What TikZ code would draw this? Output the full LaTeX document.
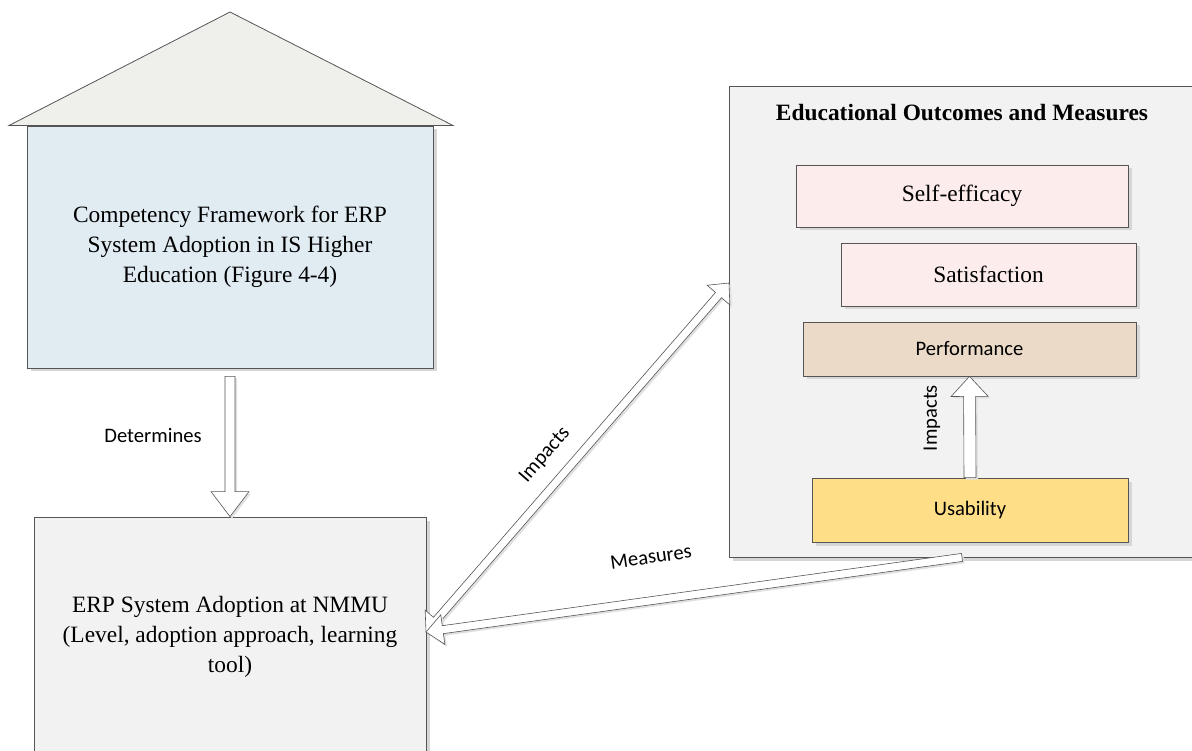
\documentclass[tikz,border=0pt]{standalone}
\usepackage{fontspec}
\setmainfont{Liberation Serif}
\newfontfamily\calibri{Carlito}
\usetikzlibrary{calc,shadows}

\definecolor{edgegray}{HTML}{555555}
\definecolor{roofgray}{HTML}{EFEFEC}
\definecolor{paleblue}{HTML}{E0EBF2}
\definecolor{panelgray}{HTML}{F2F2F2}
\definecolor{palepink}{HTML}{FDECEC}
\definecolor{tan}{HTML}{EADAC7}
\definecolor{butter}{HTML}{FEDF88}

% single-headed block arrow: #1 tail, #2 tip, #3 shaft half width,
% #4 head half width, #5 head length
\newcommand\blockarrow[5]{%
  \coordinate (hb) at ($(#2)!#5!(#1)$);
  \draw[arrowbody]
    ($(#1)!#3!90:(#2)$) -- ($(hb)!#3!-90:(#1)$) -- ($(hb)!#4!-90:(#1)$)
    -- (#2)
    -- ($(hb)!#4!90:(#1)$) -- ($(hb)!#3!90:(#1)$) -- ($(#1)!#3!-90:(#2)$)
    -- cycle;
}
% double-headed block arrow, same arguments
\newcommand\blockarrowboth[5]{%
  \coordinate (ha) at ($(#1)!#5!(#2)$);
  \coordinate (hb) at ($(#2)!#5!(#1)$);
  \draw[arrowbody]
    (#1) -- ($(ha)!#4!90:(#2)$) -- ($(ha)!#3!90:(#2)$)
    -- ($(hb)!#3!-90:(#1)$) -- ($(hb)!#4!-90:(#1)$)
    -- (#2)
    -- ($(hb)!#4!90:(#1)$) -- ($(hb)!#3!90:(#1)$)
    -- ($(ha)!#3!-90:(#2)$) -- ($(ha)!#4!-90:(#2)$)
    -- cycle;
}

\begin{document}
\begin{tikzpicture}[x=1pt,y=-1pt,
  box/.style={draw=edgegray, line width=0.8pt, inner sep=0pt,
    drop shadow={shadow xshift=3.5pt, shadow yshift=-3.5pt, fill=black!16, opacity=1}},
  serif/.style={font=\fontsize{23.4}{30}\selectfont, align=center},
  sans/.style={font=\calibri\fontsize{20.6}{25}\selectfont},
  arrowbody/.style={draw=edgegray, fill=white, line width=0.6pt,
    drop shadow={shadow xshift=2pt, shadow yshift=-2pt, fill=black!12, opacity=1}},
  lbl/.style={sans, inner sep=1pt}
]
\useasboundingbox (0,0) rectangle (1192,751);

% left column: framework "house" and the adoption box
\node[box, fill=paleblue, minimum width=406, minimum height=242, serif]
  (comp) at (230,247)
  {Competency Framework for ERP\\System Adoption in IS Higher\\Education (Figure 4-4)};
\draw[draw=edgegray, line width=0.8pt, fill=roofgray, line join=miter]
  (9,125.5) -- (230,12) -- (453,125.5) -- cycle;

\node[box, fill=panelgray, minimum width=392, minimum height=240, serif]
  (erp) at (230,637)
  {ERP System Adoption at NMMU\\(Level, adoption approach, learning\\tool)};

% right panel with the outcome measures
\node[box, fill=panelgray, minimum width=466, minimum height=471]
  (outer) at (962,321.5) {};
\node[font=\bfseries\fontsize{23.4}{28}\selectfont] (title) at (962,113)
  {Educational Outcomes and Measures};

\node[box, fill=palepink, minimum width=332, minimum height=62, serif]
  (self) at (962,196) {Self-efficacy};
\node[box, fill=palepink, minimum width=295, minimum height=63, serif]
  (satis) at (988.5,274.5) {Satisfaction};
\node[box, fill=tan, minimum width=333, minimum height=54, sans]
  (perf) at (969.5,349) {Performance};
\node[box, fill=butter, minimum width=316, minimum height=64, sans]
  (usab) at (970,510) {Usability};

% connection points on the box borders
\coordinate (detA) at ($(comp.south)+(0,8)$);
\coordinate (erpport) at (426,632);
\coordinate (outerport) at (729,283);

% connectors
\blockarrow{detA}{erp.north}{5pt}{19pt}{25pt}
\blockarrow{usab.north}{perf.south}{6pt}{18.5pt}{20pt}
\blockarrowboth{erpport}{outerport}{4pt}{15pt}{16pt}
\blockarrow{outer.south}{erpport}{4pt}{15pt}{17pt}

% connector labels
\node[lbl] (detlbl) at (153,435) {Determines};
\node[lbl, rotate=48.9] (implbl) at (545,455) {Impacts};
\node[lbl, rotate=8.25] (measlbl) at (651,557) {Measures};
\node[lbl, rotate=90] (impvlbl) at (932,418) {Impacts};
\end{tikzpicture}
\end{document}
